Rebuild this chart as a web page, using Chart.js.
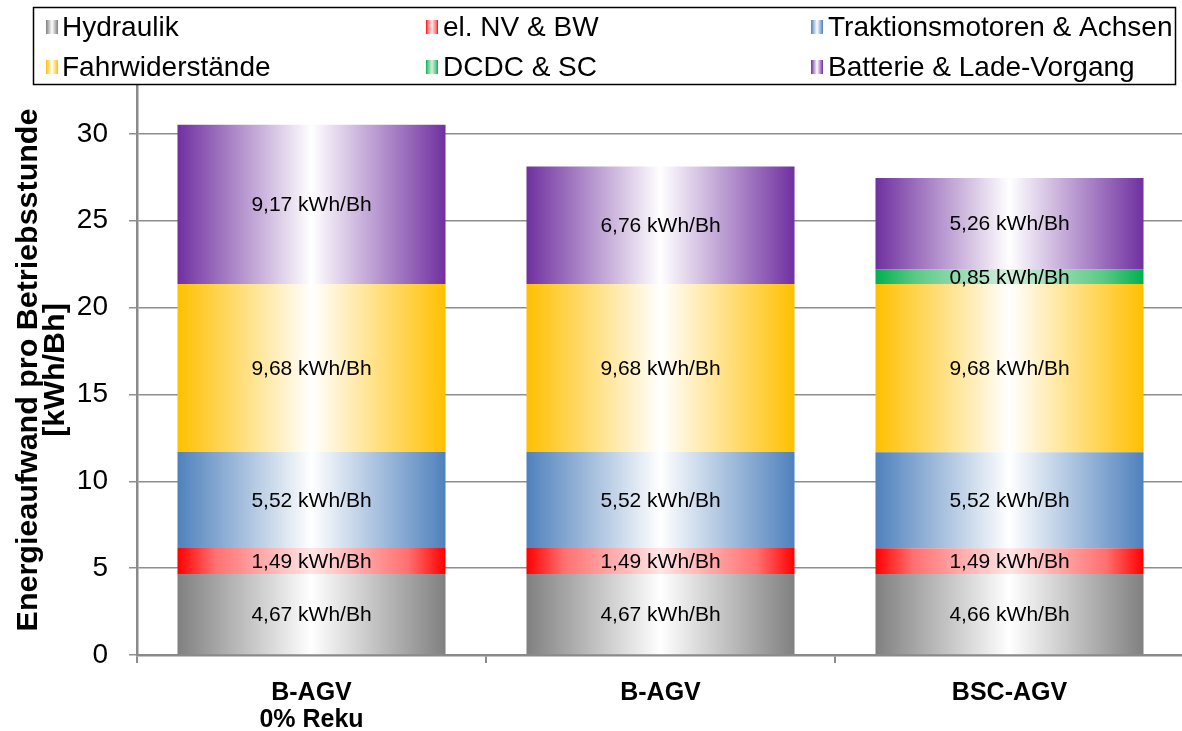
<!DOCTYPE html>
<html>
<head>
<meta charset="utf-8">
<script src="https://cdn.jsdelivr.net/npm/chart.js@4.4.1/dist/chart.umd.min.js"></script>
<style>
  html, body { margin: 0; padding: 0; background: #fff; overflow: hidden; }
  #wrap { width: 1184px; height: 731px; }
</style>
</head>
<body>
<div id="wrap"><canvas id="chart"></canvas></div>
<script>
// Energy demand per operating hour, stacked by consumer group
const categories = [["B-AGV", "0% Reku"], "B-AGV", "BSC-AGV"];
const seriesNames = [
  "Hydraulik", "el. NV & BW", "Traktionsmotoren & Achsen",
  "Fahrwiderstände", "DCDC & SC", "Batterie & Lade-Vorgang"
];
const hydraulik        = [4.67, 4.67, 4.66];
const elNvBw           = [1.49, 1.49, 1.49];
const traktion         = [5.52, 5.52, 5.52];
const fahrwiderstaende = [9.68, 9.68, 9.68];
const dcdcSc           = [0, 0, 0.85];
const batterie         = [9.17, 6.76, 5.26];
const yTickValues      = [0, 5, 10, 15, 20, 25, 30];
const yTitle           = ["Energieaufwand pro Betriebsstunde", "[kWh/Bh]"];
const unit             = "kWh/Bh";

// colour stops (position, colour) of each horizontal gradient, mirrored about the centre
const gradientStops = [
  [[0, "#808080"], [0.5, "#ffffff"]],
  [[0, "#ff0000"], [0.14, "#ff7070"], [0.5, "#ffe6e6"]],
  [[0, "#4f81bd"], [0.5, "#ffffff"]],
  [[0, "#ffc000"], [0.5, "#ffffff"]],
  [[0, "#00b050"], [0.15, "#5cc987"], [0.5, "#d4eedc"]],
  [[0, "#7030a0"], [0.5, "#ffffff"]]
];

const FONT = "'Liberation Sans', Arial, sans-serif";
const BAR_PCT = 0.768;

function hGradient(ctx, x0, x1, i) {
  const g = ctx.createLinearGradient(x0, 0, x1, 0);
  gradientStops[i].forEach(([p, c]) => {
    g.addColorStop(p, c);
    g.addColorStop(1 - p, c);
  });
  return g;
}

function barFill(i) {
  return (c) => {
    const chart = c.chart;
    if (!chart.chartArea || c.dataIndex === undefined) return gradientStops[i][0][1];
    const xs = chart.scales.x;
    const cx = xs.getPixelForValue(c.dataIndex);
    const half = (xs.width / categories.length) * BAR_PCT / 2;
    return hGradient(chart.ctx, cx - half, cx + half, i);
  };
}

const seriesData = [hydraulik, elNvBw, traktion, fahrwiderstaende, dcdcSc, batterie];
const datasets = seriesData.map((d, i) => ({
  label: seriesNames[i],
  data: d,
  backgroundColor: barFill(i),
  borderWidth: 0,
  categoryPercentage: BAR_PCT,
  barPercentage: 1.0
}));

// value text centred in each segment
const segmentLabels = {
  id: "segmentLabels",
  afterDatasetsDraw(chart) {
    const ctx = chart.ctx;
    ctx.save();
    ctx.font = "21px " + FONT;
    ctx.fillStyle = "#000";
    ctx.textAlign = "center";
    ctx.textBaseline = "middle";
    chart.data.datasets.forEach((ds, di) => {
      const meta = chart.getDatasetMeta(di);
      meta.data.forEach((bar, j) => {
        const v = ds.data[j];
        if (!v) return;
        const y = (bar.y + bar.base) / 2;
        ctx.fillText(v.toFixed(2).replace(".", ",") + " " + unit, bar.x, y + 1);
      });
    });
    ctx.restore();
  }
};

// rotated two-line axis title
const yAxisTitle = {
  id: "yAxisTitle",
  afterDraw(chart) {
    const ctx = chart.ctx;
    ctx.save();
    ctx.translate(43, 370);
    ctx.rotate(-Math.PI / 2);
    ctx.scale(1.05, 1);
    ctx.font = "bold 29px " + FONT;
    ctx.fillStyle = "#000";
    ctx.textAlign = "center";
    ctx.textBaseline = "middle";
    ctx.fillText(yTitle[0], 0, -14);
    ctx.fillText(yTitle[1], 0, 13);
    ctx.restore();
  }
};

// boxed legend in three columns over the top of the plot
const boxLegend = {
  id: "boxLegend",
  afterDraw(chart) {
    const ctx = chart.ctx;
    const box = { x: 33, y: 7, w: 1142, h: 77 };
    const colX = [46, 426, 811];
    const textX = [62, 443, 828];
    const rowY = [27, 67];
    ctx.save();
    ctx.fillStyle = "#fff";
    ctx.fillRect(box.x, box.y, box.w, box.h);
    ctx.strokeStyle = "#000";
    ctx.lineWidth = 1.5;
    ctx.strokeRect(box.x + 0.5, box.y + 0.5, box.w, box.h);
    ctx.font = "28px " + FONT;
    ctx.textBaseline = "middle";
    ctx.textAlign = "left";
    seriesNames.forEach((name, i) => {
      const col = i % 3;
      const x = colX[col];
      const y = rowY[Math.floor(i / 3)];
      ctx.fillStyle = hGradient(ctx, x, x + 12, i);
      ctx.fillRect(x, y - 7, 12, 14);
      ctx.fillStyle = "#000";
      ctx.fillText(name, textX[col], y + 1);
    });
    ctx.restore();
  }
};

new Chart(document.getElementById("chart"), {
  type: "bar",
  data: { labels: categories, datasets },
  options: {
    responsive: true,
    maintainAspectRatio: false,
    animation: false,
    events: [],
    layout: { padding: { top: 47, left: 0, right: 0, bottom: 0 } },
    plugins: { legend: { display: false }, tooltip: { enabled: false } },
    scales: {
      x: {
        stacked: true,
        grid: { display: true, offset: true, drawOnChartArea: false, drawTicks: true, tickLength: 8, color: "#8a8a8a", lineWidth: 2 },
        border: { display: true, color: "#8a8a8a", width: 2.5 },
        ticks: { color: "#000", font: { family: FONT, size: 25, weight: "bold", lineHeight: 1.08 }, padding: 17, maxRotation: 0 },
        afterFit(s) { s.height = 76; }
      },
      y: {
        stacked: true,
        min: 0,
        max: 35,
        afterBuildTicks(s) { s.ticks = yTickValues.map(v => ({ value: v })); },
        grid: { color: "#8e8e8e", lineWidth: 1.5, tickLength: 8 },
        border: { display: true, color: "#8a8a8a", width: 2.5 },
        ticks: { color: "#000", font: { family: FONT, size: 28 }, padding: 21 },
        afterFit(s) { s.width = 137; }
      }
    }
  },
  plugins: [segmentLabels, yAxisTitle, boxLegend]
});
</script>
</body>
</html>
